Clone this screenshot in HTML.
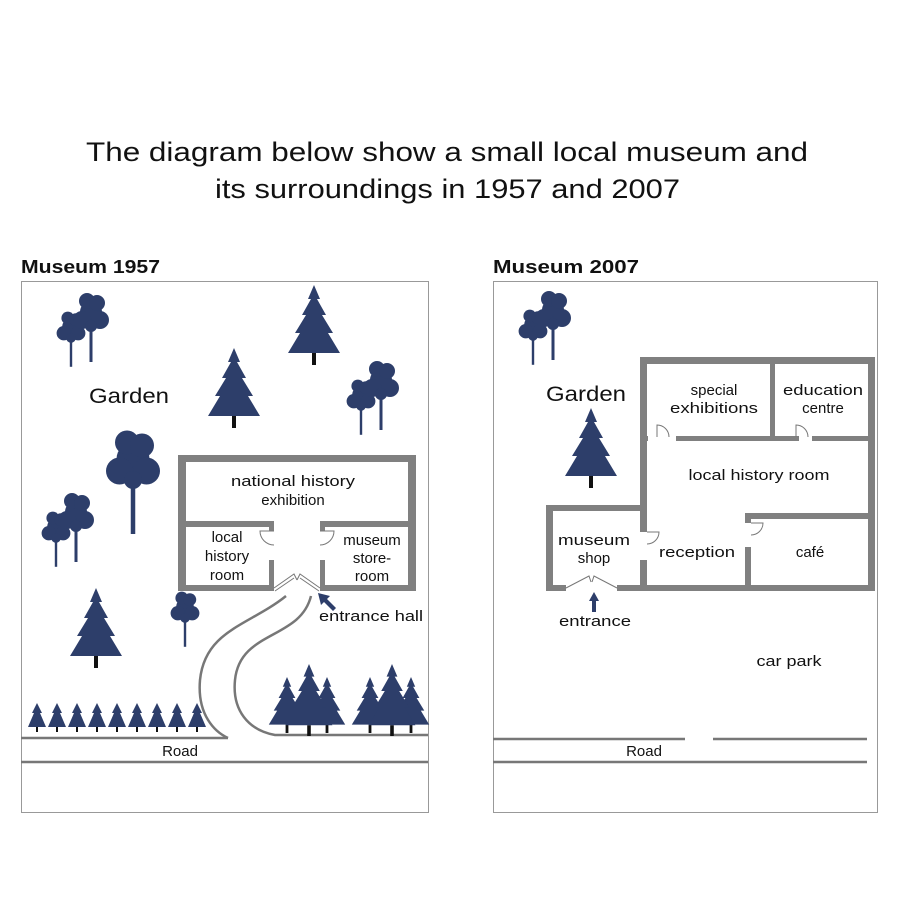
<!DOCTYPE html>
<html><head><meta charset="utf-8"><style>
html,body{margin:0;padding:0;background:#fff;}
svg{display:block;font-family:"Liberation Sans",sans-serif;}
</style></head><body>
<svg width="900" height="900" viewBox="0 0 900 900" xmlns="http://www.w3.org/2000/svg">
<defs>
<g id="fir">
<rect x="-2" y="28" width="4" height="12" fill="#111"/>
<path d="M0,-40 L6,-26 L3,-26 L12,-10 L8,-10 L19,8 L14,8 L26,28 L-26,28 L-14,8 L-19,8 L-8,-10 L-12,-10 L-3,-26 L-6,-26 Z" fill="#2d3e6a"/>
</g>
<g id="smfir">
<rect x="-1" y="10" width="2" height="5" fill="#111"/>
<path d="M0,-14 L5,-4 L3,-4 L9,10 L-9,10 L-3,-4 L-5,-4 Z" fill="#2d3e6a"/>
</g>
<g id="dec" fill="#2d3e6a">
<rect x="-1.5" y="0" width="3" height="36"/>
<circle cx="0" cy="-14" r="11"/><circle cx="-9" cy="-6" r="9"/><circle cx="9" cy="-6" r="9"/><circle cx="-4" cy="-25" r="8"/><circle cx="6" cy="-23" r="8"/><circle cx="0" cy="0" r="6"/>
</g>
<g id="pair">
<use href="#dec" transform="translate(-14,8) scale(0.8)"/>
<use href="#dec" transform="translate(6,-4)"/>
</g>
</defs>

<text x="86" y="161" font-size="27" textLength="722" lengthAdjust="spacingAndGlyphs" fill="#111">The diagram below show a small local museum and</text>
<text x="215" y="198" font-size="27" textLength="465" lengthAdjust="spacingAndGlyphs" fill="#111">its surroundings in 1957 and 2007</text>

<text x="21" y="273" font-size="18" font-weight="bold" textLength="139" lengthAdjust="spacingAndGlyphs" fill="#111">Museum 1957</text>
<text x="493" y="273" font-size="18" font-weight="bold" textLength="146" lengthAdjust="spacingAndGlyphs" fill="#111">Museum 2007</text>

<rect x="21.5" y="281.5" width="407" height="531" fill="none" stroke="#999" stroke-width="1"/>
<rect x="493.5" y="281.5" width="384" height="531" fill="none" stroke="#999" stroke-width="1"/>

<!-- LEFT -->
<g stroke="#777" stroke-width="2.5" fill="none">
<path d="M21 738 L228 738"/>
<path d="M286 596 C 250 625, 205 630, 200 680 C 197 715, 215 732, 228 738"/>
<path d="M311 596 C 300 640, 240 630, 235 680 C 232 710, 248 730, 275 735 L428 735"/>
<path d="M21 762 L428 762"/>
</g>
<text x="180" y="756" font-size="15" text-anchor="middle" fill="#111">Road</text>

<g fill="#808080">
<rect x="178" y="455" width="238" height="7"/>
<rect x="178" y="455" width="8" height="136"/>
<rect x="408" y="455" width="8" height="136"/>
<rect x="178" y="521" width="96" height="6"/>
<rect x="320" y="521" width="96" height="6"/>
<rect x="269" y="521" width="5" height="10"/>
<rect x="269" y="560" width="5" height="31"/>
<rect x="320" y="521" width="5" height="10"/>
<rect x="320" y="560" width="5" height="31"/>
<rect x="178" y="585" width="96" height="6"/>
<rect x="320" y="585" width="96" height="6"/>
</g>
<g stroke="#777" stroke-width="1" fill="none">
<path d="M274 531 L260 531 A 14 14 0 0 0 274 545"/>
<path d="M320 531 L334 531 A 14 14 0 0 1 320 545"/>
<path d="M274 588 L294 574 L297 580"/>
<path d="M320 588 L300 574 L297 580"/>
<path d="M275 591 L294 578"/><path d="M319 591 L300 578"/>
</g>
<g font-size="15" text-anchor="middle" fill="#111">
<text x="293" y="486" textLength="124" lengthAdjust="spacingAndGlyphs">national history</text>
<text x="293" y="505">exhibition</text>
<text x="227" y="542">local</text>
<text x="227" y="561">history</text>
<text x="227" y="580">room</text>
<text x="372" y="545">museum</text>
<text x="372" y="563">store-</text>
<text x="372" y="581">room</text>
</g>
<path d="M318 593 L330 596 L327 599 L336 608 L333 611 L324 602 L321 605 Z" fill="#2d3e6a"/>
<text x="319" y="621" font-size="15" textLength="104" lengthAdjust="spacingAndGlyphs" fill="#111">entrance hall</text>
<text x="89" y="403" font-size="21" textLength="80" lengthAdjust="spacingAndGlyphs" fill="#111">Garden</text>

<use href="#pair" transform="translate(85,330)"/>
<use href="#fir" transform="translate(314,325)"/>
<use href="#fir" transform="translate(234,388)"/>
<use href="#pair" transform="translate(375,398)"/>
<use href="#dec" transform="translate(133,480) scale(1.5)"/>
<use href="#pair" transform="translate(70,530)"/>
<use href="#fir" transform="translate(96,628)"/>
<use href="#dec" transform="translate(185,618) scale(0.8)"/>
<g>
<use href="#smfir" transform="translate(37,717)"/><use href="#smfir" transform="translate(57,717)"/><use href="#smfir" transform="translate(77,717)"/><use href="#smfir" transform="translate(97,717)"/><use href="#smfir" transform="translate(117,717)"/><use href="#smfir" transform="translate(137,717)"/><use href="#smfir" transform="translate(157,717)"/><use href="#smfir" transform="translate(177,717)"/><use href="#smfir" transform="translate(197,717)"/>
</g>
<use href="#fir" transform="translate(287,705) scale(0.7)"/>
<use href="#fir" transform="translate(327,705) scale(0.7)"/>
<use href="#fir" transform="translate(309,700) scale(0.9)"/>
<use href="#fir" transform="translate(370,705) scale(0.7)"/>
<use href="#fir" transform="translate(411,705) scale(0.7)"/>
<use href="#fir" transform="translate(392,700) scale(0.9)"/>

<!-- RIGHT -->
<g stroke="#777" stroke-width="2.5" fill="none">
<path d="M493 739 L685 739"/><path d="M713 739 L867 739"/>
<path d="M493 762 L867 762"/>
</g>
<text x="644" y="756" font-size="15" text-anchor="middle" fill="#111">Road</text>
<text x="789" y="666" font-size="15" text-anchor="middle" textLength="65" lengthAdjust="spacingAndGlyphs" fill="#111">car park</text>
<text x="546" y="401" font-size="21" textLength="80" lengthAdjust="spacingAndGlyphs" fill="#111">Garden</text>
<use href="#pair" transform="translate(547,328)"/>
<use href="#fir" transform="translate(591,448)"/>

<g fill="#808080">
<rect x="640" y="357" width="235" height="7"/>
<rect x="640" y="357" width="7" height="234"/>
<rect x="868" y="357" width="7" height="234"/>
<rect x="770" y="357" width="5" height="81"/>
<rect x="640" y="436" width="8" height="5"/>
<rect x="676" y="436" width="123" height="5"/>
<rect x="812" y="436" width="63" height="5"/>
<rect x="745" y="513" width="130" height="6"/>
<rect x="745" y="513" width="6" height="10"/>
<rect x="745" y="547" width="6" height="44"/>
<rect x="546" y="505" width="101" height="6"/>
<rect x="546" y="505" width="7" height="86"/>
<rect x="546" y="585" width="20" height="6"/>
<rect x="617" y="585" width="258" height="6"/>
</g>
<rect x="640" y="532" width="7" height="28" fill="#fff"/>
<g stroke="#777" stroke-width="1" fill="none">
<path d="M657 437 L657 425 A 12 12 0 0 1 669 437"/>
<path d="M796 437 L796 425 A 12 12 0 0 1 808 437"/>
<path d="M647 532 L659 532 A 12 12 0 0 1 647 544"/>
<path d="M751 523 L763 523 A 12 12 0 0 1 751 535"/>
<path d="M566 588 L589 576 L591 582"/>
<path d="M617 588 L594 576 L592 582"/>
</g>
<g font-size="15" text-anchor="middle" fill="#111">
<text x="714" y="395">special</text>
<text x="714" y="413" textLength="88" lengthAdjust="spacingAndGlyphs">exhibitions</text>
<text x="823" y="395" textLength="80" lengthAdjust="spacingAndGlyphs">education</text>
<text x="823" y="413">centre</text>
<text x="759" y="480" textLength="141" lengthAdjust="spacingAndGlyphs">local history room</text>
<text x="594" y="545" textLength="72" lengthAdjust="spacingAndGlyphs">museum</text>
<text x="594" y="563">shop</text>
<text x="697" y="557" textLength="76" lengthAdjust="spacingAndGlyphs">reception</text>
<text x="810" y="557">café</text>
<text x="595" y="626" textLength="72" lengthAdjust="spacingAndGlyphs">entrance</text>
</g>
<path d="M594 592 L589 601 L592 601 L592 612 L596 612 L596 601 L599 601 Z" fill="#2d3e6a"/>
</svg>
</body></html>
